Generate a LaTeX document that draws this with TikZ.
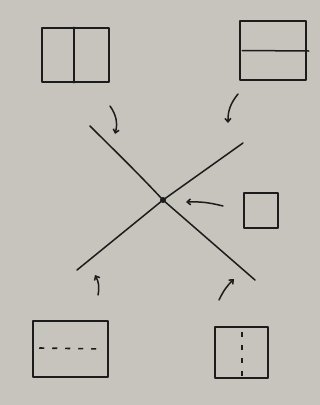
\documentclass[tikz,border=0pt]{standalone}
\usetikzlibrary{arrows.meta,calc}
\definecolor{paper}{RGB}{198,196,188}
\definecolor{ink}{RGB}{28,28,28}
\tikzset{
  pen/.style={draw=ink, line width=1.5pt, line cap=round, line join=round},
  sketchbox/.style={pen, rectangle, inner sep=0pt, fill=none},
  divline/.style={pen},
  dashdiv/.style={draw=ink, line width=1.6pt, dash pattern=on 5pt off 8pt},
  arr/.style={pen, -{Straight Barb[length=3.5pt,width=6pt]}}
}
\begin{document}
\begin{tikzpicture}[x=1pt,y=-1pt]
\fill[paper] (0,0) rectangle (320,405);
\useasboundingbox (0,0) rectangle (320,405);
% boxes
\node[sketchbox, minimum width=67pt, minimum height=54pt] (tl) at (75.5,55) {};
\node[sketchbox, minimum width=66pt, minimum height=59pt] (tr) at (273,50.5) {};
\node[sketchbox, minimum width=75pt, minimum height=56pt] (bl) at (70.5,349) {};
\node[sketchbox, minimum width=53pt, minimum height=51pt] (br) at (241.5,352.5) {};
\node[sketchbox, minimum width=34pt, minimum height=35pt] (sq) at (261,210.5) {};
% dividers
\draw[divline] ($(tl.north)+(-1.5,0)$) -- ($(tl.south)+(-1.5,0)$);
\draw[divline] ($(tr.west)+(3,0)$) -- ($(tr.east)+(2,0.5)$);
\draw[dashdiv] ($(bl.west)+(7,-1)$) -- ($(bl.east)+(-6,0)$);
\draw[dashdiv] ($(br.north)+(0.5,6)$) -- ($(br.south)+(0.5,-2)$);
% cross
\coordinate (c) at (163,200);
\coordinate (l1a) at (90,126);
\coordinate (l1b) at (255,280);
\coordinate (l2a) at (243,143);
\coordinate (l2b) at (77,270);
\draw[pen] (l1a) .. controls (110,146) and (135,170) .. (c) -- (l1b);
\draw[pen] (l2a) -- (c) -- (l2b);
\node[circle, fill=ink, inner sep=0pt, minimum size=6pt] (dot) at (c) {};
% arrows
\coordinate (a1s) at (110,106);
\coordinate (a1e) at (115,134);
\coordinate (a2s) at (238,94);
\coordinate (a2e) at (228,123);
\coordinate (a3s) at (223,206);
\coordinate (a3e) at (186,202);
\coordinate (a4s) at (98,295);
\coordinate (a4e) at (95,275);
\coordinate (a5s) at (219,300);
\coordinate (a5e) at (234,279);
\draw[arr] (a1s) to[bend left=25] (a1e);
\draw[arr] (a2s) to[bend right=20] (a2e);
\draw[arr] (a3s) to[bend right=8] (a3e);
\draw[arr] (a4s) to[bend right=20] (a4e);
\draw[arr] (a5s) to[bend left=10] (a5e);
\end{tikzpicture}
\end{document}
